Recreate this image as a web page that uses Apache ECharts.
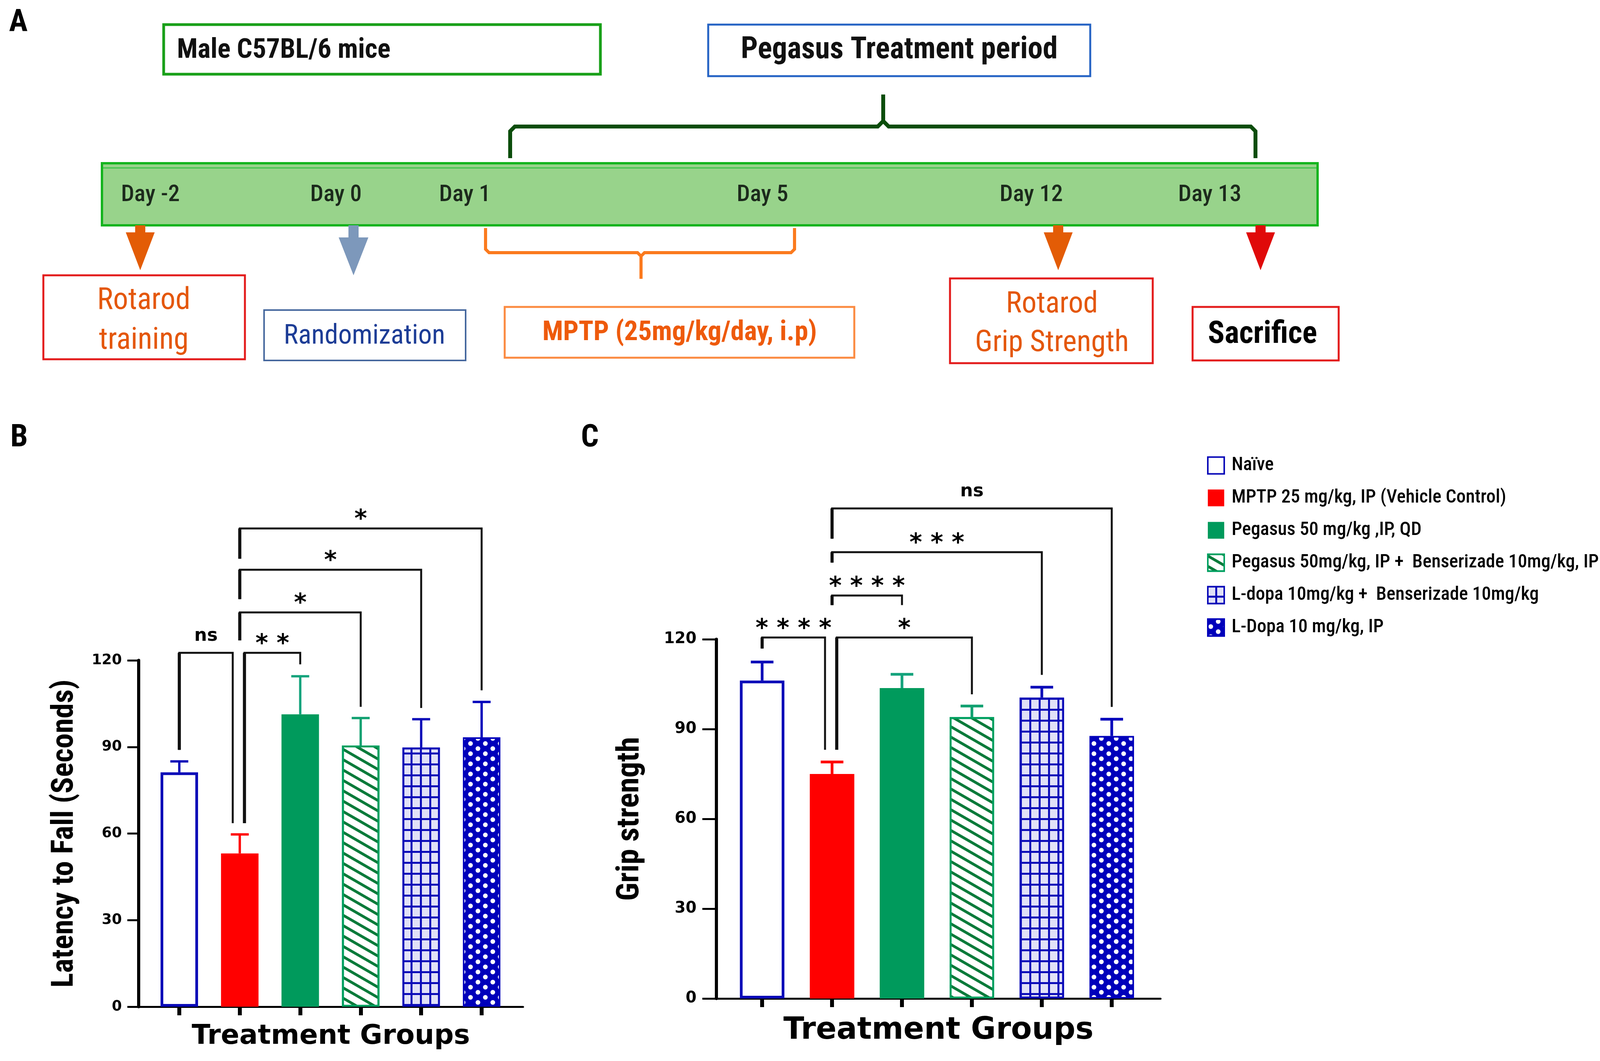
<!DOCTYPE html>
<html><head><meta charset="utf-8">
<script src="https://cdn.jsdelivr.net/npm/echarts@6/dist/echarts.min.js"></script>
<style>html,body{margin:0;padding:0;background:#fff}#c{width:4131px;height:2717px}</style>
</head><body><div id="c"></div><script>
// ================= DATA =================
const groups = ['Naïve', 'MPTP 25 mg/kg, IP (Vehicle Control)', 'Pegasus 50 mg/kg ,IP, QD',
  'Pegasus 50mg/kg, IP +  Benserizade 10mg/kg, IP', 'L-dopa 10mg/kg +  Benserizade 10mg/kg', 'L-Dopa 10 mg/kg, IP'];
const latencyMean = [81.2, 53.1, 101.3, 90.5, 89.8, 93.3];
const latencySEM  = [3.8, 6.6, 13.2, 9.5, 9.8, 12.3];
const gripMean    = [106.2, 75.0, 103.7, 94.0, 100.5, 87.7];
const gripSEM     = [6.2, 4.0, 4.6, 3.7, 3.5, 5.6];
const yTicks = [0, 30, 60, 90, 120];
// brackets: [fromGroup, toGroup, top value, from-leg end value, to-leg end value]
const latencyBrackets = [[0,1,122.6,89.0,63.6],[1,2,122.6,63.6,118.6],[1,3,136.6,126.9,103.9],[1,4,151.4,141.2,103.5],[1,5,165.7,155.2,109.6]];
const latencySig = ['ns', '**', '*', '*', '*'];
const gripBrackets = [[0,1,120.6,116.9,83.1],[1,3,120.6,83.1,101.6],[1,2,134.6,131.4,131.4],[1,4,149.1,145.6,108.1],[1,5,163.7,153.6,97.4]];
const gripSig = ['****', '*', '****', '***', 'ns'];
const yTitles = ['Latency to Fall (Seconds)', 'Grip strength'];
const xTitle = 'Treatment Groups';
const panelLetters = ['A', 'B', 'C'];
const timelineDays = ['Day -2', 'Day 0', 'Day 1', 'Day 5', 'Day 12', 'Day 13'];
const timelineHeaders = ['Male C57BL/6 mice', 'Pegasus Treatment period'];
const timelineEvents = [['Rotarod', 'training'], ['Randomization'], ['MPTP (25mg/kg/day, i.p)'], ['Rotarod', 'Grip Strength'], ['Sacrifice']];

// ================= STYLE / LAYOUT =================
const NARROW = '"Roboto Condensed","DejaVu Sans Condensed",sans-serif';
const WIDE = '"DejaVu Sans",Verdana,sans-serif';
const BLUE = '#0a0ab8', RED = '#ff0000', GREEN = '#009a5c', TEAL = '#14a37c', DKGREEN = '#0b7a3a';
const groupStyles = [
  {color: '#ffffff', borderColor: BLUE, borderWidth: 7},
  {color: RED, borderWidth: 0},
  {color: GREEN, borderWidth: 0},
  {color: '#ffffff', borderColor: '#00a060', borderWidth: 5,
    decal: {symbol: 'rect', symbolSize: 1, color: DKGREEN, dashArrayX: [1, 0], dashArrayY: [7, 16], rotation: Math.PI / 6}},
  {color: BLUE, borderColor: BLUE, borderWidth: 5,
    decal: {symbol: 'rect', symbolSize: 1, color: 'rgba(255,255,255,0.88)', dashArrayX: [19, 5], dashArrayY: [23, 5], rotation: 0}},
  {color: '#0000bb', borderColor: '#0000bb', borderWidth: 4,
    decal: {symbol: 'circle', symbolSize: 1, color: '#ffffff', dashArrayX: [[15, 23], [0, 19, 15, 4]], dashArrayY: [12, 1], rotation: 0}}
];
const errColors = [BLUE, RED, TEAL, '#10a070', BLUE, '#0000bb'];

const panels = [
  {grid: {left: 355, top: 1691, width: 984, height: 887}, xMin: -0.672, xMax: 5.685, barWidth: 96,
   mean: latencyMean, sem: latencySEM, br: latencyBrackets, sig: latencySig, yTitle: yTitles[0],
   yNameGap: 150, yNameSize: 78, labelSize: 37, labelMargin: 43, tickLen: 29, xNameSize: 70, xNameGap: 42, capW: 46, errW: 6},
  {grid: {left: 1834, top: 1637, width: 1137, height: 920}, xMin: -0.654, xMax: 5.698, barWidth: 114,
   mean: gripMean, sem: gripSEM, br: gripBrackets, sig: gripSig, yTitle: yTitles[1],
   yNameGap: 180, yNameSize: 80, labelSize: 40, labelMargin: 51, tickLen: 36, xNameSize: 78, xNameGap: 44, capW: 58, errW: 7}
];

const grids = [], xAxes = [], yAxes = [], series = [];
panels.forEach((p, k) => {
  grids.push(Object.assign({containLabel: false}, p.grid));
  xAxes.push({gridIndex: k, type: 'value', min: p.xMin, max: p.xMax,
    name: xTitle, nameLocation: 'middle', nameGap: p.xNameGap,
    nameTextStyle: {fontFamily: WIDE, fontWeight: 'bold', fontSize: p.xNameSize, color: '#000'},
    axisLine: {show: true, onZero: false, lineStyle: {color: '#000', width: 5}},
    axisTick: {show: true, customValues: groups.map((g, i) => i), length: 22, lineStyle: {color: '#000', width: 10}},
    axisLabel: {show: false}, splitLine: {show: false}});
  yAxes.push({gridIndex: k, type: 'value', min: yTicks[0], max: yTicks[yTicks.length - 1], interval: yTicks[1] - yTicks[0],
    name: p.yTitle, nameLocation: 'middle', nameRotate: 90, nameGap: p.yNameGap,
    nameTextStyle: {fontFamily: NARROW, fontWeight: 'bold', fontSize: p.yNameSize, color: '#000'},
    axisLine: {show: true, onZero: false, lineStyle: {color: '#000', width: 8}},
    axisTick: {show: true, length: p.tickLen, lineStyle: {color: '#000', width: 5}},
    axisLabel: {fontFamily: WIDE, fontWeight: 'bold', fontSize: p.labelSize, color: '#000', margin: p.labelMargin},
    splitLine: {show: false}});
  groups.forEach((g, i) => {
    series.push({type: 'bar', name: g, xAxisIndex: k, yAxisIndex: k, data: [[i, p.mean[i]]],
      barWidth: p.barWidth, barGap: '-100%', itemStyle: groupStyles[i], silent: true});
  });
  // error bars (mean + SEM)
  series.push({type: 'custom', xAxisIndex: k, yAxisIndex: k, silent: true, z: 3, clip: false,
    data: p.mean.map((m, i) => [i, m, m + p.sem[i]]),
    renderItem: (params, api) => {
      const a = api.coord([api.value(0), api.value(1)]);
      const b = api.coord([api.value(0), api.value(2)]);
      const c = errColors[params.dataIndex];
      return {type: 'group', children: [
        {type: 'line', shape: {x1: a[0], y1: a[1], x2: b[0], y2: b[1]}, style: {stroke: c, lineWidth: p.errW}},
        {type: 'line', shape: {x1: b[0] - p.capW / 2, y1: b[1], x2: b[0] + p.capW / 2, y2: b[1]}, style: {stroke: c, lineWidth: p.errW}}
      ]};
    }});
  // significance brackets
  series.push({type: 'custom', xAxisIndex: k, yAxisIndex: k, silent: true, z: 4, clip: false,
    data: p.br.map(d => [d[0], d[1], d[2], d[3], d[4]]),
    renderItem: (params, api) => {
      const d = p.br[params.dataIndex];
      const top = api.coord([d[0], d[2]]);
      let x1 = top[0];
      let x2 = api.coord([d[1], d[2]])[0];
      if (p.br.some(o => o !== d && o[1] === d[0] && Math.abs(o[2] - d[2]) < 0.5)) x1 += 12;
      if (p.br.some(o => o !== d && o[0] === d[1] && Math.abs(o[2] - d[2]) < 0.5)) x2 -= 18;
      const yT = top[1];
      const y1 = api.coord([d[0], d[3]])[1];
      const y2 = api.coord([d[1], d[4]])[1];
      const lab = p.sig[params.dataIndex];
      const star = lab.indexOf('*') >= 0;
      const fs = star ? 62 : 46;
      const t = star ? lab.split('').join(' ') : lab;
      return {type: 'group', children: [
        {type: 'polyline', shape: {points: [[x1, y1], [x1, yT], [x2, yT], [x2, y2]]}, style: {stroke: '#111', lineWidth: 5, fill: null}},
        {type: 'line', shape: {x1: x1, y1: y1, x2: x1, y2: yT}, style: {stroke: '#111', lineWidth: 8}},
        {type: 'text', x: (x1 + x2) / 2, y: star ? yT - 21 : yT - 43,
          style: {text: t, fill: '#000', font: 'bold ' + fs + 'px ' + WIDE, align: 'center', verticalAlign: 'middle', textAlign: 'center', textVerticalAlign: 'middle'}}
      ]};
    }});
});

// ================= PANEL A (schematic) =================
const g = [];
function txt(x, y, t, fs, color, weight, align) {
  g.push({type: 'text', x: x, y: y, z: 10,
    style: {text: t, fill: color, font: (weight || 'normal') + ' ' + fs + 'px ' + NARROW,
      align: align || 'center', textAlign: align || 'center', verticalAlign: 'middle', textVerticalAlign: 'middle'}});
}
function box(x, y, w, h, stroke, lw) {
  g.push({type: 'rect', shape: {x: x, y: y, width: w, height: h}, z: 5, style: {fill: '#fff', stroke: stroke, lineWidth: lw}});
}
function arrow(cx, top, headTop, tip, color, hw) {
  g.push({type: 'polygon', z: 6, shape: {points: [[cx - 13, top], [cx + 13, top], [cx + 13, headTop], [cx + hw, headTop], [cx, tip], [cx - hw, headTop], [cx - 13, headTop]]},
    style: {fill: color}});
}
function pline(pts, color, lw) {
  g.push({type: 'polyline', z: 6, shape: {points: pts}, style: {stroke: color, lineWidth: lw, fill: null}});
}
// panel letters
txt(47, 60, panelLetters[0], 80, '#000', 'bold');
txt(49, 1123, panelLetters[1], 80, '#000', 'bold');
txt(1510, 1123, panelLetters[2], 80, '#000', 'bold');
// headers
box(419, 63, 1118, 127, '#19a019', 7);
txt(453, 130, timelineHeaders[0], 70, '#111', 'bold', 'left');
box(1813, 63, 978, 132, '#2563c4', 5);
txt(2302, 130, timelineHeaders[1], 77, '#111', 'bold');
// treatment-period brace
pline([[1306, 405], [1306, 336], [1318, 324], [2247, 324], [2261, 310], [2261, 242]], '#0b4d0b', 10);
pline([[2261, 310], [2275, 324], [3202, 324], [3214, 336], [3214, 405]], '#0b4d0b', 10);
// timeline bar
g.push({type: 'rect', z: 5, shape: {x: 261, y: 418, width: 3112, height: 159}, style: {fill: '#98d38b', stroke: '#14b41e', lineWidth: 6}});
g.push({type: 'line', z: 6, shape: {x1: 264, y1: 430, x2: 3370, y2: 430}, style: {stroke: '#3cc44a', lineWidth: 3}});
const dayX = [385, 860, 1190, 1952, 2640, 3097];
timelineDays.forEach((d, i) => txt(dayX[i], 500, d, 60, '#1c2a1c', '500'));
// arrows
arrow(359, 577, 595, 692, '#e35c06', 37);
arrow(905, 577, 608, 705, '#7d98bb', 38);
arrow(2709, 577, 595, 692, '#e35c06', 37);
arrow(3227, 577, 595, 692, '#e00a0a', 37);
// MPTP brace
pline([[1243, 584], [1243, 638], [1252, 647], [1632, 647], [1641, 656], [1641, 714]], '#fb7a1e', 8);
pline([[1641, 656], [1650, 647], [2025, 647], [2034, 638], [2034, 584]], '#fb7a1e', 8);
// event boxes
box(111, 705, 516, 215, '#e31b1b', 5);
txt(368, 772, timelineEvents[0][0], 77, '#e4570c');
txt(368, 874, timelineEvents[0][1], 77, '#e4570c');
box(676, 794, 516, 129, '#46689e', 4);
txt(933, 862, timelineEvents[1][0], 70, '#1d3d96');
box(1292, 786, 895, 130, '#fb8a40', 5);
txt(1740, 853, timelineEvents[2][0], 70, '#ee5a0c', 'bold');
box(2432, 713, 519, 217, '#e31b1b', 5);
txt(2693, 781, timelineEvents[3][0], 76, '#e4570c');
txt(2693, 880, timelineEvents[3][1], 76, '#e4570c');
box(3053, 786, 374, 137, '#e31b1b', 5);
txt(3232, 858, timelineEvents[4][0], 79, '#000', 'bold');

const chart = echarts.init(document.getElementById('c'));
chart.setOption({
  animation: false,
  backgroundColor: '#fff',
  grid: grids, xAxis: xAxes, yAxis: yAxes, series: series,
  legend: {data: groups, orient: 'vertical', left: 3085, top: 1163, itemWidth: 42, itemHeight: 43, itemGap: 35,
    icon: 'rect', selectedMode: false,
    textStyle: {fontFamily: NARROW, fontWeight: 500, fontSize: 48, color: '#000', padding: [0, 0, 0, 14]},
    itemStyle: {borderWidth: 4}},
  graphic: g
});
</script></body></html>
